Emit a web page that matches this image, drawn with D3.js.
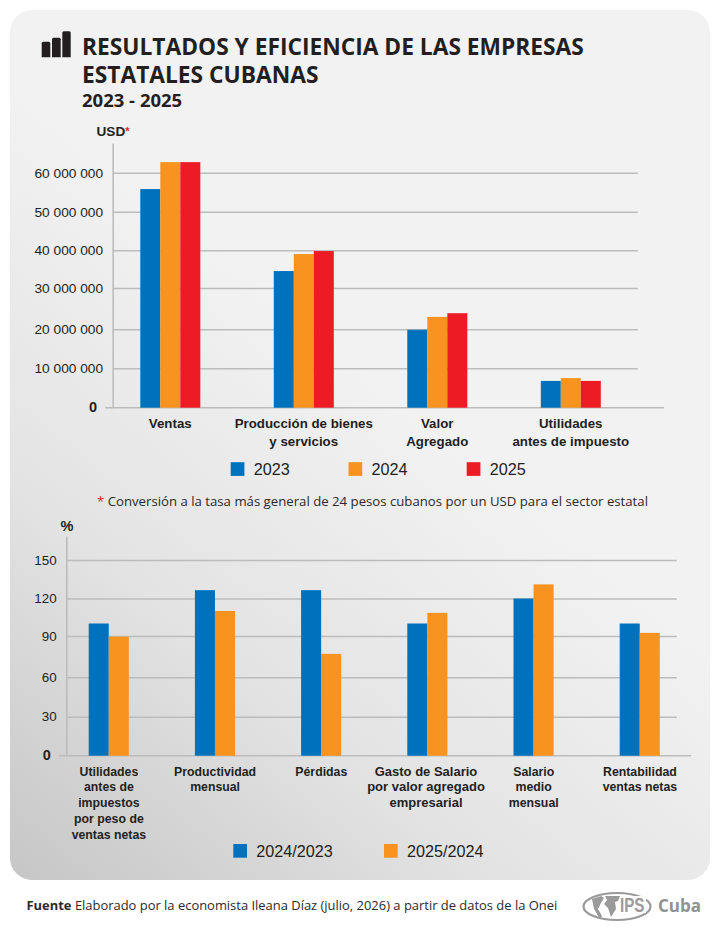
<!DOCTYPE html>
<html lang="es">
<head>
<meta charset="utf-8">
<title>Resultados y eficiencia de las empresas estatales cubanas</title>
<script src="https://cdn.jsdelivr.net/npm/d3@7"></script>
<style>
    html, body { margin: 0; padding: 0; background: #fff; }
    svg { display: block; }
    .sans { font-family: "Liberation Sans", Arial, sans-serif; }
    .open { font-family: "Open Sans", sans-serif; }
</style>
</head>
<body>
<svg id="chart" width="720" height="930"></svg>
<script>
// top chart, USD
const usdCategories = ["Ventas", "Producción de bienes\ny servicios", "Valor\nAgregado", "Utilidades\nantes de impuesto"];
const usdSeriesNames = ["2023", "2024", "2025"];
const usd2023 = [55800000, 34500000, 19900000, 6800000];
const usd2024 = [62700000, 39000000, 23000000, 7500000];
const usd2025 = [62700000, 39800000, 23900000, 6800000];
const usdTicks = [0, 10000000, 20000000, 30000000, 40000000, 50000000, 60000000];

// bottom chart, %
const pctCategories = ["Utilidades\nantes de\nimpuestos\npor peso de\nventas netas", "Productividad\nmensual", "Pérdidas", "Gasto de Salario\npor valor agregado\nempresarial", "Salario\nmedio\nmensual", "Rentabilidad\nventas netas"];
const pctSeriesNames = ["2024/2023", "2025/2024"];
const pct2024 = [100, 126.5, 126.5, 100, 120, 100];
const pct2025 = [89.5, 110, 77, 108.5, 131, 92.5];
const pctTicks = [0, 30, 60, 90, 120, 150];

const BLUE = "#0071bc", ORANGE = "#f7931e", RED = "#ed1c24";
const INK = "#231f20", GRID = "#bcbcbc", LOGO = "#9a9a9a";

const svg = d3.select("#chart");
const defs = svg.append("defs");

const grad = defs.append("linearGradient")
    .attr("id", "panelFill")
    .attr("gradientUnits", "userSpaceOnUse")
    .attr("x1", 10).attr("y1", 880)
    .attr("x2", 400).attr("y2", 400);
grad.append("stop").attr("offset", 0).attr("stop-color", "#c6c6c6");
grad.append("stop").attr("offset", 0.5).attr("stop-color", "#e3e3e3");
grad.append("stop").attr("offset", 1).attr("stop-color", "#f2f2f2");

svg.append("rect")
    .attr("x", 10).attr("y", 10)
    .attr("width", 700).attr("height", 870)
    .attr("rx", 22)
    .attr("fill", "url(#panelFill)");

// header icon
const iconBars = [[41.7, 41.7, 8.6], [52, 37.7, 8.7], [62.3, 31.3, 8.4]];
svg.append("g").selectAll("path")
    .data(iconBars)
    .join("path")
    .attr("fill", INK)
    .attr("d", d => `M${d[0]},57.3 V${d[1] + 1.5} Q${d[0]},${d[1]} ${d[0] + 1.5},${d[1]} H${d[0] + d[2] - 1.5} Q${d[0] + d[2]},${d[1]} ${d[0] + d[2]},${d[1] + 1.5} V57.3 Z`);

function addText(x, y, str, size, weight, cls, fill, anchor) {
    return svg.append("text")
        .attr("class", cls)
        .attr("x", x).attr("y", y)
        .attr("text-anchor", anchor || "start")
        .style("font-size", size + "px")
        .style("font-weight", weight)
        .attr("fill", fill || INK)
        .text(str);
}

addText(82, 54.5, "RESULTADOS Y EFICIENCIA DE LAS EMPRESAS", 22.75, 700, "open");
addText(82, 82.7, "ESTATALES CUBANAS", 22.75, 700, "open");
addText(82, 107, "2023 - 2025", 18.5, 700, "open");

const spaceFormat = d3.formatLocale({ decimal: ".", thousands: " ", grouping: [3], currency: ["", ""] }).format(",");

// opts: axis and grid extents, y scale, band range, labels
function drawBars(opts) {
    const x = d3.scaleBand().domain(opts.categories).range(opts.bandRange);
    const xInner = d3.scaleBand().domain(opts.names).range(opts.innerRange);
    const y = d3.scaleLinear().domain(opts.yDomain).range(opts.yRange);
    const base = y(0);

    const g = svg.append("g");

    const axis = g.append("g")
        .attr("transform", `translate(${opts.axisX},0)`)
        .call(d3.axisLeft(y)
            .tickValues(opts.ticks)
            .tickFormat(opts.format)
            .tickSize(-(opts.gridEnd - opts.axisX))
            .tickSizeOuter(0)
            .tickPadding(opts.tickPadding));

    axis.select(".domain").attr("stroke", GRID).attr("stroke-width", 1.6);
    axis.selectAll(".tick line").attr("stroke", GRID).attr("stroke-width", 1.5)
        .filter(d => d === 0).remove();
    axis.selectAll(".tick text")
        .attr("class", "sans")
        .attr("fill", INK)
        .style("font-size", opts.tickSize + "px");
    axis.selectAll(".tick text").filter(d => d === 0)
        .attr("x", -(opts.axisX - opts.zeroRight))
        .attr("dy", "0.25em")
        .style("font-size", "14.5px")
        .style("font-weight", 700);

    // baseline runs past the axis on both sides
    g.append("line")
        .attr("x1", opts.baseStart).attr("x2", opts.baseEnd)
        .attr("y1", base).attr("y2", base)
        .attr("stroke", GRID).attr("stroke-width", 1.6);

    opts.names.forEach((name, s) => {
        g.append("g").selectAll("rect")
            .data(opts.series[s])
            .join("rect")
            .attr("x", (d, i) => x(opts.categories[i]) + xInner(name))
            .attr("width", xInner.bandwidth())
            .attr("y", d => y(d))
            .attr("height", d => base - y(d))
            .attr("fill", opts.colors[s]);
    });

    const labels = g.append("g").selectAll("text")
        .data(opts.categories)
        .join("text")
        .attr("class", "sans")
        .attr("text-anchor", "middle")
        .attr("fill", INK)
        .style("font-size", d => opts.labelSize(d) + "px")
        .style("font-weight", 700);
    labels.selectAll("tspan")
        .data(d => d.split("\n").map(line => ({ line, cat: d })))
        .join("tspan")
        .attr("x", d => x(d.cat) + x.bandwidth() / 2 + opts.labelDx(d.cat))
        .attr("y", (d, i) => opts.labelY + i * opts.labelStep)
        .text(d => d.line);

    // legend
    g.append("g").selectAll("rect")
        .data(opts.names)
        .join("rect")
        .attr("x", (d, i) => opts.legendX[i])
        .attr("y", opts.legendY)
        .attr("width", 13.7).attr("height", 13.7)
        .attr("fill", (d, i) => opts.colors[i]);
    g.append("g").selectAll("text")
        .data(opts.names)
        .join("text")
        .attr("class", "sans")
        .attr("x", (d, i) => opts.legendX[i] + 23)
        .attr("y", opts.legendY + 12.9)
        .attr("fill", INK)
        .style("font-size", "16.2px")
        .text(d => d);
}

drawBars({
    categories: usdCategories, names: usdSeriesNames,
    series: [usd2023, usd2024, usd2025], colors: [BLUE, ORANGE, RED],
    ticks: usdTicks, format: spaceFormat, tickSize: 13.7, tickPadding: 9.7,
    // gridlines in the source are not evenly spaced, so the scale is piecewise
    yDomain: [0, 10000000, 20000000, 30000000, 40000000, 50000000, 60000000, 67600000],
    yRange: [407.7, 368.3, 329.3, 288, 250.3, 211.7, 172.7, 143],
    bandRange: [103.5, 637.5], innerRange: [36.8, 96.8],
    axisX: 112.7, gridEnd: 637.7, baseStart: 105, baseEnd: 664, zeroRight: 97,
    labelSize: () => 13.3, labelDx: () => 0, labelY: 428.3, labelStep: 17.3,
    legendX: [230.7, 348.5, 466.7], legendY: 462.2
});

drawBars({
    categories: pctCategories, names: pctSeriesNames,
    series: [pct2024, pct2025], colors: [BLUE, ORANGE],
    ticks: pctTicks, format: d3.format("d"), tickSize: 13.4, tickPadding: 9.6,
    yDomain: [0, 30, 60, 90, 120, 150, 168.5],
    yRange: [755.7, 716.7, 677.3, 636, 598.5, 560, 536],
    bandRange: [55.8, 693], innerRange: [32.9, 73],
    axisX: 66.3, gridEnd: 676.8, baseStart: 59, baseEnd: 691, zeroRight: 50.7,
    // the Gasto label is set a little larger and off-centre in the source
    labelSize: d => d.startsWith("Gasto") ? 13 : 12.3,
    labelDx: d => d.startsWith("Gasto") ? -1.5 : 0,
    labelY: 775.7, labelStep: 15.7,
    legendX: [233.3, 384], legendY: 844
});

// units
const usd = addText(96.5, 136, "USD", 13.6, 700, "sans");
usd.append("tspan").attr("fill", RED).attr("dy", -1).style("font-size", "11px").text("*");
addText(60.5, 530.7, "%", 14.6, 700, "sans");

// conversion note
const note = addText(97, 506, "", 13.2, 400, "open", "#2b2b2b");
note.append("tspan").attr("fill", RED).text("* ");
note.append("tspan").text("Conversión a la tasa más general de 24 pesos cubanos por un USD para el sector estatal");

// source
const src = addText(26.5, 910, "", 12.95, 400, "open", "#2b2b2b");
src.append("tspan").style("font-weight", 700).text("Fuente ");
src.append("tspan").text("Elaborado por la economista Ileana Díaz (julio, 2026) a partir de datos de la Onei");

// IPS logo: ring, landmasses, lettering
const logo = svg.append("g");
logo.append("ellipse")
    .attr("cx", 617).attr("cy", 906.5)
    .attr("rx", 33.5).attr("ry", 13.5)
    .attr("fill", "none")
    .attr("stroke", LOGO)
    .attr("stroke-width", 2.2);
// gap in the ring behind the lettering
logo.append("rect")
    .attr("x", 618).attr("y", 896).attr("width", 28).attr("height", 17)
    .attr("fill", "#fff");
logo.append("path")
    .attr("fill", LOGO)
    .attr("d", "M592,899 L601,896 L604,898 L601,903 L598,909 L602,916 L600,919 L594,909 Z");
logo.append("path")
    .attr("fill", LOGO)
    .attr("d", "M605,896 L620,896 L618,901 L615,902 L616,909 L611,917 L608,908 L604,904 L607,900 Z");
addText(620, 912, "IPS", 19.5, 700, "sans", LOGO).attr("textLength", 24.5).attr("lengthAdjust", "spacingAndGlyphs");
addText(658, 911.7, "Cuba", 17, 700, "open", "#919191");
</script>
</body>
</html>
